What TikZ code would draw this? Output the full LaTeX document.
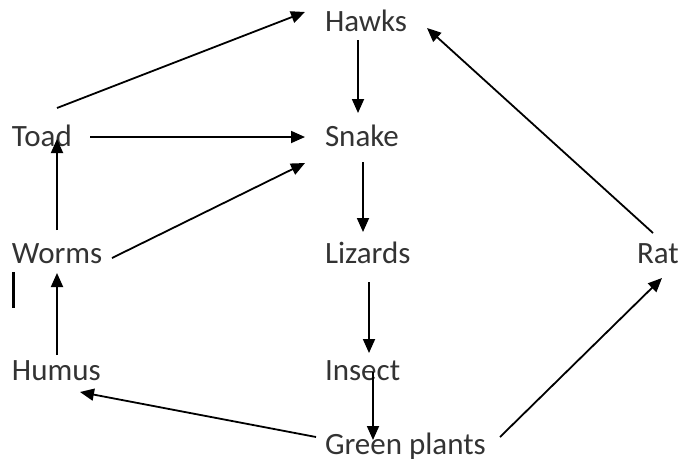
\documentclass[tikz,border=0pt]{standalone}
\usepackage{fontspec}
\setmainfont{Carlito}
\usetikzlibrary{arrows.meta,calc}
\begin{document}
\begin{tikzpicture}[x=1pt,y=-1pt,
  lbl/.style={anchor=base west,inner sep=0pt,outer sep=0pt,text=black!80,font=\fontsize{31}{36}\selectfont},
  conn/.style={line width=1.8pt,-{Triangle[length=14pt,width=12pt]}}]
\useasboundingbox (0,0) rectangle (684,463);
\node[lbl] (hawks) at (325,31) {Hawks};
\node[lbl] (snake) at (325,146) {Snake};
\node[lbl] (lizards) at (325,263) {Lizards};
\node[lbl] (insect) at (325,380) {Insect};
\node[lbl] (green) at (325,454) {Green plants};
\node[lbl] (toad) at (12,146) {Toad};
\node[lbl] (worms) at (12,263) {Worms};
\node[lbl] (humus) at (12,380) {Humus};
\node[lbl] (rat) at (637,263) {Rat};
% connectors
\draw[conn] ($(toad.base west)+(45,-38)$) -- ($(hawks.base west)+(-20,-19)$);
\draw[conn] ($(hawks.base west)+(33,9)$) -- ($(snake.base west)+(33,-33)$);
\draw[conn] ($(toad.base west)+(78,-9)$) -- ($(snake.base west)+(-20,-9)$);
\draw[conn] ($(worms.base west)+(100,-5)$) -- ($(snake.base west)+(-20,17)$);
\draw[conn] ($(snake.base west)+(38,16)$) -- ($(lizards.base west)+(38,-31)$);
\draw[conn] ($(worms.base west)+(45,-33)$) -- ($(toad.base west)+(45,-7)$);
\draw[conn] ($(humus.base west)+(45,-25)$) -- ($(worms.base west)+(45,10)$);
\draw[conn] ($(lizards.base west)+(44,19)$) -- ($(insect.base west)+(44,-27)$);
\draw[conn] ($(insect.base west)+(48,-8)$) -- ($(green.base west)+(48,-14)$);
\draw[conn] ($(green.base west)+(-9,-17)$) -- ($(humus.base west)+(68,12)$);
\draw[conn] ($(green.base west)+(175,-17)$) -- ($(rat.base west)+(25,15)$);
\draw[conn] ($(rat.base west)+(16,-30)$) -- ($(hawks.base west)+(102,-3)$);
% stray mark
\draw[line width=3pt] (13,272) -- (13,308);
\end{tikzpicture}
\end{document}
